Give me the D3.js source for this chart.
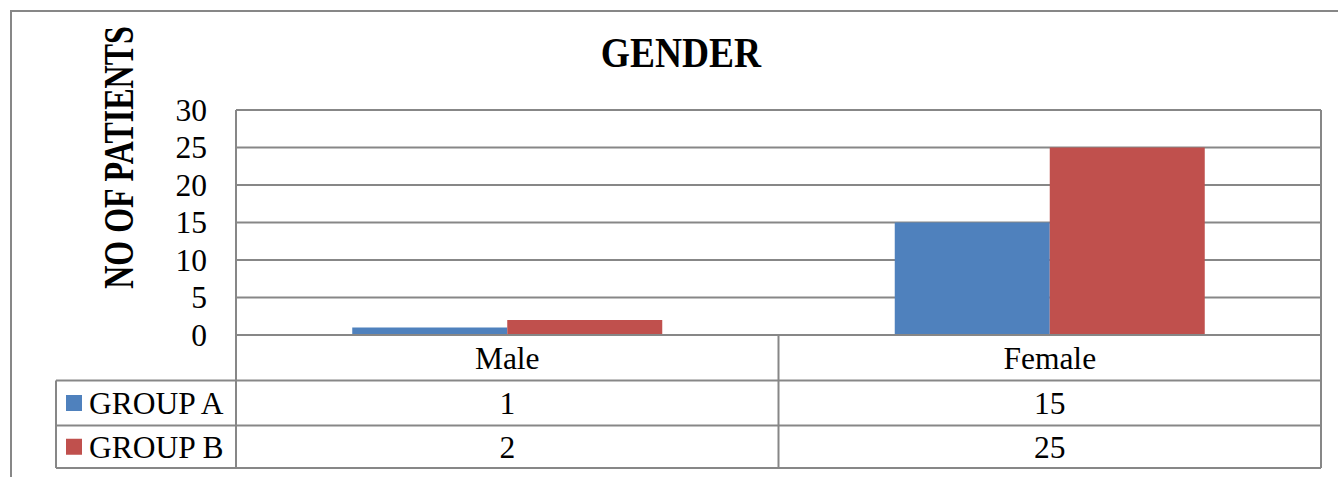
<!DOCTYPE html>
<html>
<head>
<meta charset="utf-8">
<script src="https://cdn.jsdelivr.net/npm/d3@7"></script>
<style>
  body { margin: 0; background: #fff; }
  text { font-family: "Liberation Serif", "Times New Roman", serif; fill: #000; }
</style>
</head>
<body>
<div id="chart"></div>
<script>
// data
const categories = ["Male", "Female"];
const seriesNames = ["GROUP A", "GROUP B"];
const groupA = [1, 15];
const groupB = [2, 25];
const yTicks = [0, 5, 10, 15, 20, 25, 30];
const colors = ["#4F81BD", "#C0504D"];

const width = 1338;
const height = 477;
const grid = "#878787";

const svg = d3.select("#chart").append("svg")
  .attr("width", width)
  .attr("height", height);

// outer frame (cut off at right and bottom)
svg.append("rect")
  .attr("x", 11).attr("y", 11)
  .attr("width", 1340).attr("height", 480)
  .attr("fill", "none").attr("stroke", grid).attr("stroke-width", 2);

const plot = { left: 236, right: 1321, top: 110, bottom: 335 };
const rowA = [380.5, 425.5];
const rowB = [425.5, 468];
const legendLeft = 56;
const fs = 31.5;

const x = d3.scaleBand().domain(categories).range([plot.left, plot.right]).paddingInner(0).paddingOuter(0);
const xi = d3.scaleBand().domain(seriesNames).range([0, x.bandwidth()]).paddingInner(0).paddingOuter(0.75);
const y = d3.scaleLinear().domain([0, 30]).range([plot.bottom, plot.top]);

// title
svg.append("text")
  .attr("transform", "translate(681,67) scale(1,1.12)")
  .attr("text-anchor", "middle")
  .attr("font-size", 37.5).attr("font-weight", "bold")
  .text("GENDER");

// y axis title
svg.append("text")
  .attr("transform", "translate(133,157.5) rotate(-90) scale(1,1.3)")
  .attr("text-anchor", "middle")
  .attr("font-size", 32).attr("font-weight", "bold")
  .text("NO OF PATIENTS");

// gridlines
svg.append("g").selectAll("line")
  .data(yTicks)
  .join("line")
  .attr("x1", plot.left).attr("x2", plot.right)
  .attr("y1", d => y(d)).attr("y2", d => y(d))
  .attr("stroke", grid).attr("stroke-width", 2);

// y axis labels
const yAxis = svg.append("g")
  .attr("transform", `translate(${plot.left},0)`)
  .call(d3.axisLeft(y).tickValues(yTicks).tickSize(0).tickPadding(29));
yAxis.select(".domain").remove();
yAxis.selectAll("text")
  .attr("font-size", fs)
  .attr("font-family", "Liberation Serif, Times New Roman, serif")
  .attr("fill", "#000");

// bars
const series = [groupA, groupB];
const barG = svg.append("g");
series.forEach((vals, si) => {
  barG.selectAll(".s" + si)
    .data(vals)
    .join("rect")
    .attr("class", "s" + si)
    .attr("x", (d, i) => x(categories[i]) + xi(seriesNames[si]))
    .attr("y", d => y(d))
    .attr("width", xi.bandwidth())
    .attr("height", d => y(0) - y(d))
    .attr("fill", colors[si]);
});

// data table
const tbl = svg.append("g").attr("stroke", grid).attr("stroke-width", 2);
// axis line
tbl.append("line").attr("x1", plot.left).attr("x2", plot.right).attr("y1", plot.bottom).attr("y2", plot.bottom);
// horizontal rows
[rowA[0], rowB[0], rowB[1]].forEach(yy => {
  tbl.append("line").attr("x1", legendLeft).attr("x2", plot.right).attr("y1", yy).attr("y2", yy);
});
// verticals
tbl.append("line").attr("x1", legendLeft).attr("x2", legendLeft).attr("y1", rowA[0]).attr("y2", rowB[1]);
tbl.append("line").attr("x1", plot.left).attr("x2", plot.left).attr("y1", plot.top).attr("y2", rowB[1]);
tbl.append("line").attr("x1", plot.right).attr("x2", plot.right).attr("y1", plot.top).attr("y2", rowB[1]);
categories.slice(1).forEach(c => {
  tbl.append("line").attr("x1", x(c)).attr("x2", x(c)).attr("y1", plot.bottom).attr("y2", rowB[1]);
});

// category labels
svg.append("g").selectAll("text")
  .data(categories)
  .join("text")
  .attr("x", d => x(d) + x.bandwidth() / 2)
  .attr("y", (plot.bottom + rowA[0]) / 2)
  .attr("dy", "0.35em")
  .attr("text-anchor", "middle")
  .attr("font-size", fs)
  .text(d => d);

// rows: legend + values
const rows = [rowA, rowB];
series.forEach((vals, si) => {
  const cy = (rows[si][0] + rows[si][1]) / 2;
  svg.append("rect")
    .attr("x", 66).attr("y", cy - 8)
    .attr("width", 16).attr("height", 16)
    .attr("fill", colors[si]);
  svg.append("text")
    .attr("x", 89).attr("y", cy).attr("dy", "0.35em")
    .attr("font-size", fs)
    .text(seriesNames[si]);
  svg.append("g").selectAll("text")
    .data(vals)
    .join("text")
    .attr("x", (d, i) => x(categories[i]) + x.bandwidth() / 2)
    .attr("y", cy).attr("dy", "0.35em")
    .attr("text-anchor", "middle")
    .attr("font-size", fs)
    .text(d => d);
});
</script>
</body>
</html>
